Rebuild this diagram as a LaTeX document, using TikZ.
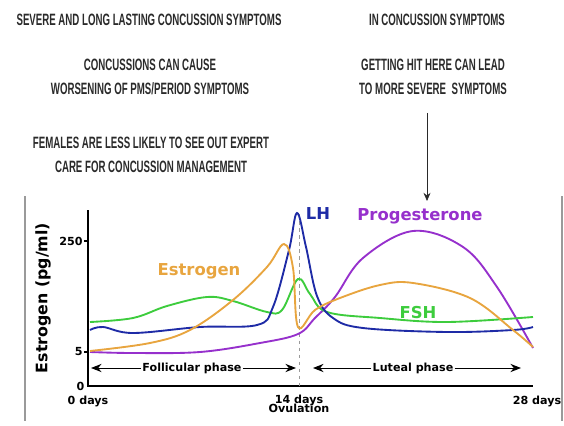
\documentclass[tikz,border=0pt]{standalone}
\usepackage{fontspec}
\setmainfont{Liberation Sans}
\newfontfamily\capsfont[FakeStretch=0.59]{Liberation Sans}
\newfontfamily\chartfont{DejaVu Sans}
\usepackage{xcolor}
\usetikzlibrary{arrows.meta,positioning,calc}
\definecolor{Ink}{HTML}{2A2A2A}
\definecolor{Estro}{HTML}{E8A53F}
\definecolor{LHblue}{HTML}{1E2BA6}
\definecolor{FSHgreen}{HTML}{3DCC3D}
\definecolor{Proge}{HTML}{9630CC}
\definecolor{Frame}{HTML}{9A9A9A}

\begin{document}
\begin{tikzpicture}[x=0.03cm,y=-0.03cm,
    note/.style={font=\capsfont\bfseries\fontsize{14}{15}\selectfont,text=Ink,align=center,inner sep=0pt},
    hlab/.style={font=\chartfont\bfseries\fontsize{14}{16}\selectfont,inner sep=0pt},
    tick/.style={font=\chartfont\bfseries\fontsize{9.5}{10}\selectfont,inner sep=1pt},
    curve/.style={line width=1.6pt,smooth,tension=0.6},
    phase/.style={-{Stealth[length=9pt,width=7pt]},line width=0.8pt},
    >=Stealth]
  \useasboundingbox (0,0) rectangle (564,426);
  % notes above the chart
  \node[note] (sev) at (149,20) {SEVERE AND LONG LASTING CONCUSSION SYMPTOMS};
  \node[note] (cause) at (150,77) {CONCUSSIONS CAN CAUSE\\[5pt]WORSENING OF PMS/PERIOD SYMPTOMS};
  \node[note] (fem) at (151,155) {FEMALES ARE LESS LIKELY TO SEE OUT EXPERT\\[5pt]CARE FOR CONCUSSION MANAGEMENT};
  \node[note] (insym) at (437,20) {IN CONCUSSION SYMPTOMS};
  \node[note] (hit) at (433,77) {GETTING HIT HERE CAN LEAD\\[5pt]TO MORE SEVERE \ SYMPTOMS};
  \coordinate (hittip) at (427,201);
  \draw[-{Stealth[length=7pt,width=6pt]},line width=0.6pt,Ink] (427,113) -- (hittip);

  % frame of the inset
  \draw[Frame,line width=1.2pt] (25,196) -- (25,421);
  \draw[Frame,line width=1.2pt] (562,196) -- (562,421);

  % axes
  \coordinate (O) at (88,386);
  \draw[line width=2pt] (88,210) -- (O) -- (533,386);
  \draw[line width=1pt] (84,241) -- (88,241);
  \draw[line width=1pt] (84,352) -- (88,352);
  \node[tick,left=2pt of O] (y0) {0};
  \node[tick,anchor=east] (y5) at (84,352) {5};
  \node[tick,anchor=east] (y250) at (84,241) {250};
  \node[font=\chartfont\bfseries\fontsize{13.5}{15}\selectfont,rotate=90] (ylab) at (43,298) {Estrogen (pg/ml)};
  \node[tick] (d0) at (88,401) {0 days};
  \node[tick,align=center] (d14) at (299,404) {14 days\\[-2pt]Ovulation};
  \node[tick] (d28) at (537,401) {28 days};
  \draw[Frame,dashed,line width=0.8pt] (299,214) -- (299,386);

  % hormone curves
  \draw[curve,Proge] plot coordinates {(90,352) (133,353) (200,352) (260,343) (298,334)
    (315,318) (335,297) (363,258) (413,231) (463,247) (497,287) (533,348)};
  \draw[curve,FSHgreen] plot coordinates {(90,322) (133,318) (167,306) (207,297) (233,301)
    (267,312) (282,310) (298,279) (310,294) (327,312) (380,318) (447,322) (533,317)};
  \draw[curve,LHblue] plot coordinates {(90,330) (103,327) (133,333) (200,327) (257,325)
    (273,307) (289,250) (297,213) (306,247) (317,296) (333,318) (363,328) (447,332) (513,330) (533,327)};
  \draw[curve,Estro] plot coordinates {(90,351) (150,343) (190,330) (233,300) (267,267)
    (284,244) (293,268) (298,327) (315,310) (340,298) (380,285) (413,283) (470,298) (513,330) (533,347)};
  \node[hlab,LHblue] (lh) at (318,214) {LH};
  \node[hlab,Proge] (prog) at (420,216) {Progesterone};
  \node[hlab,Estro] (est) at (199,271) {Estrogen};
  \node[hlab,FSHgreen] (fsh) at (418,313) {FSH};

  % phases
  \node[tick] (foll) at (192,368) {Follicular phase};
  \coordinate (fa) at (91,368);
  \coordinate (fb) at (296,368);
  \draw[phase] (foll) -- (fa);
  \draw[phase] (foll) -- (fb);
  \node[tick] (lut) at (413,368) {Luteal phase};
  \coordinate (la) at (313,368);
  \coordinate (lb) at (521,368);
  \draw[phase] (lut) -- (la);
  \draw[phase] (lut) -- (lb);
\end{tikzpicture}
\end{document}
